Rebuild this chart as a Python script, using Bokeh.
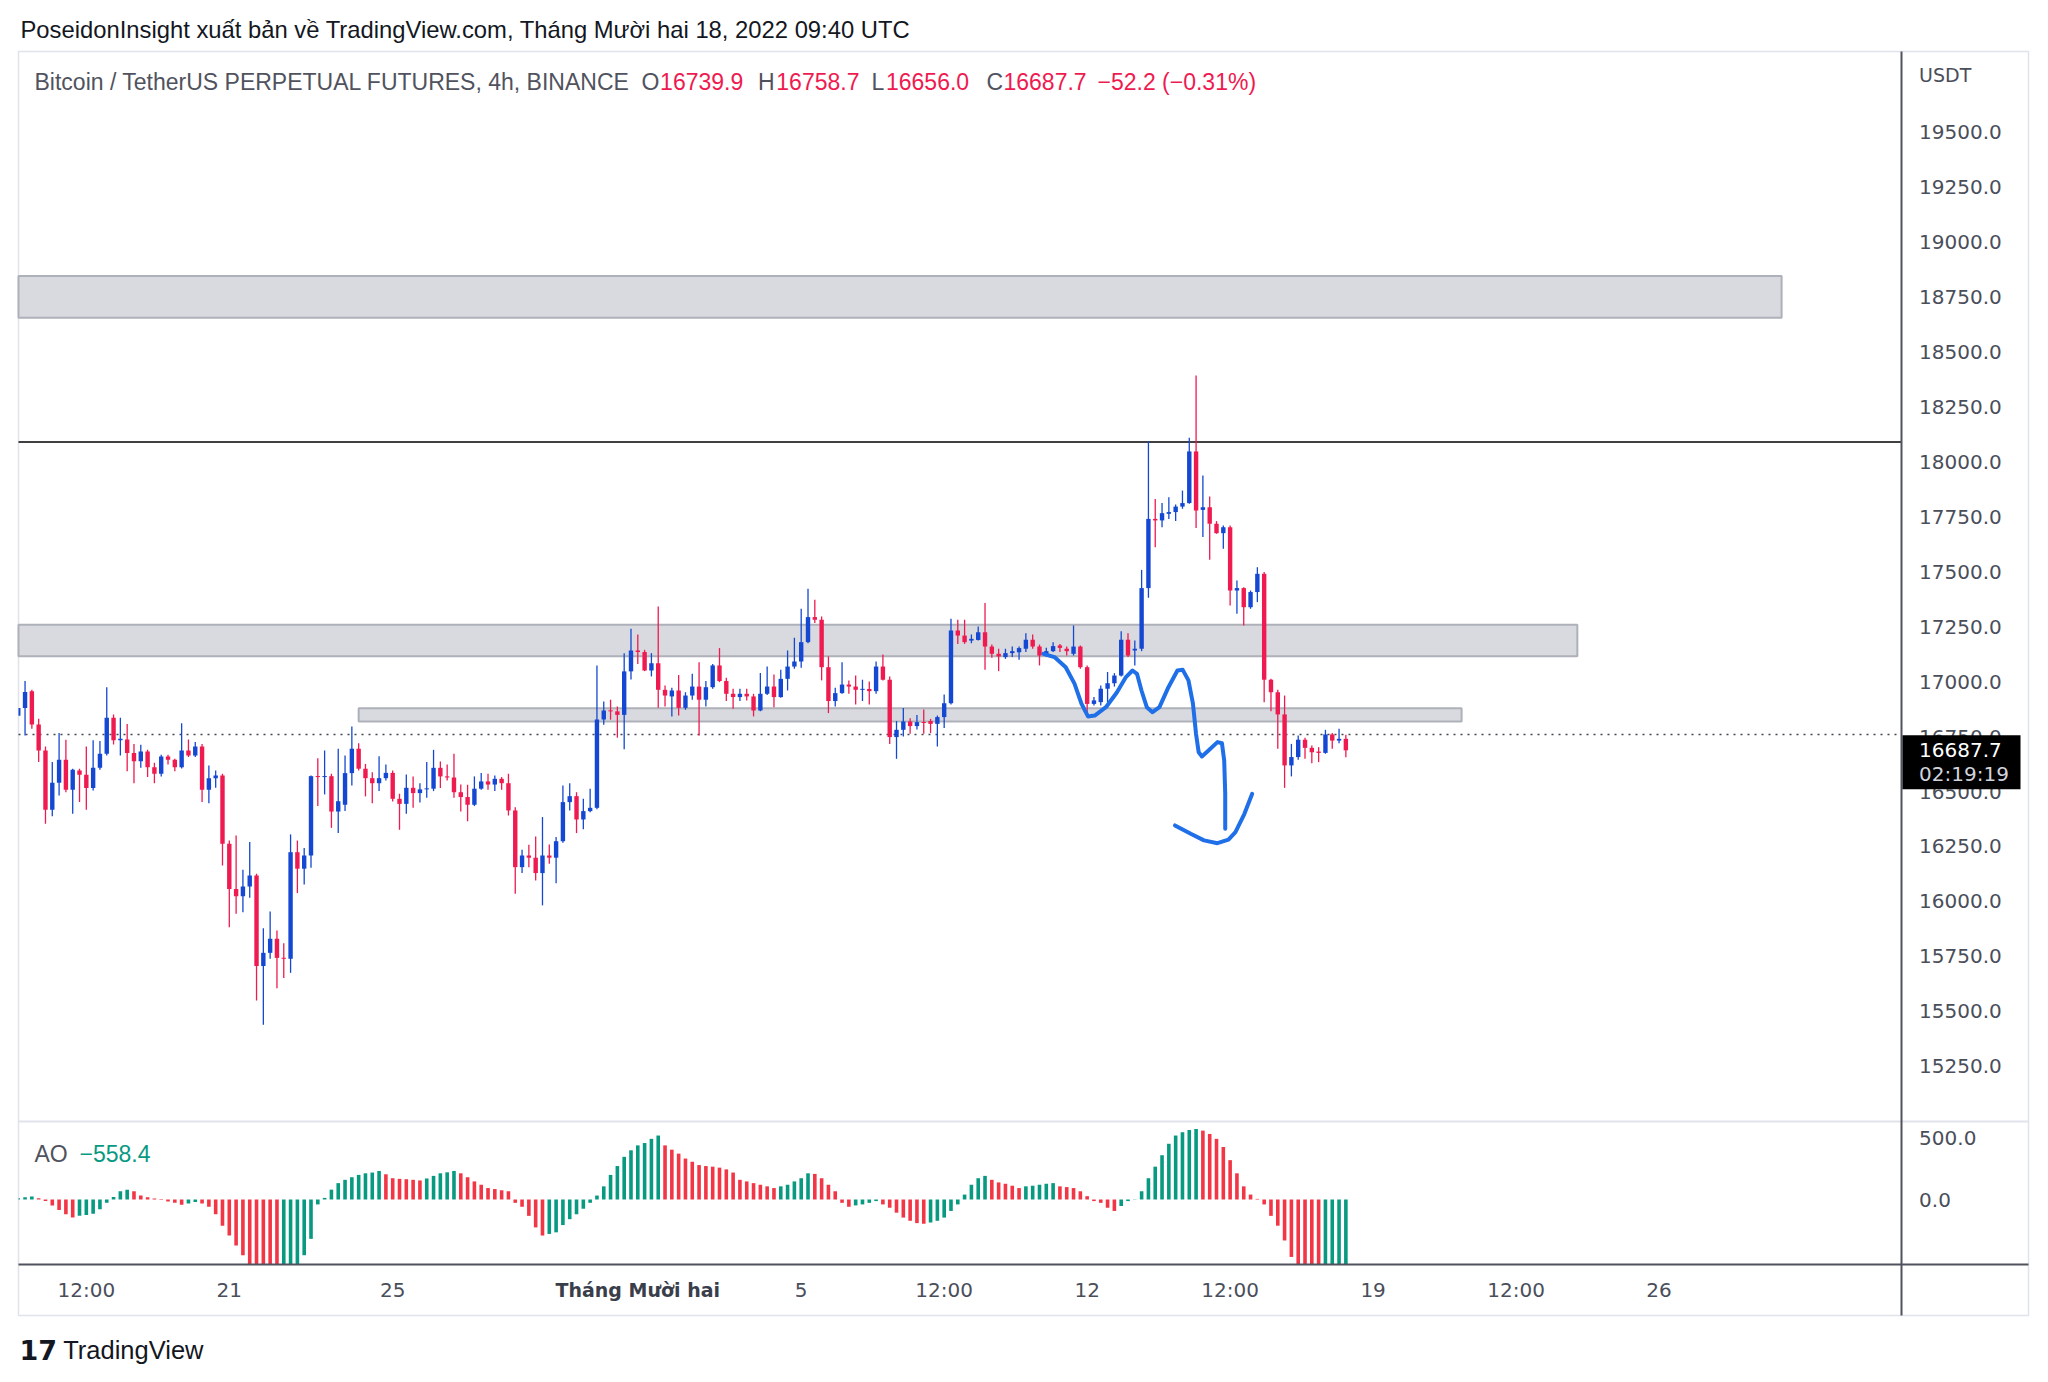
import numpy as np
import pandas as pd
from bokeh.plotting import figure
from bokeh.models import Range1d, Label, ColumnDataSource
from bokeh.core.properties import value
from bokeh.embed import file_html
from bokeh.resources import INLINE

# ---------------- data ----------------
first_bar = "2022-11-15 20:00"   # 4h candles
opens = [16845, 16880, 16957, 16805, 16687, 16417, 16540, 16645, 16508, 16596,
         16576, 16516, 16608, 16672, 16836, 16733, 16737, 16676, 16638, 16682,
         16611, 16581, 16660, 16645, 16611, 16687, 16664, 16705, 16508, 16561,
         16573, 16262, 16057, 16024, 16068, 16118, 15706, 15766, 15830, 15743,
         15739, 16224, 16149, 16209, 16570, 16566, 16570, 16409, 16440, 16584,
         16695, 16604, 16561, 16538, 16561, 16585, 16467, 16444, 16517, 16493,
         16510, 16513, 16608, 16569, 16564, 16497, 16475, 16440, 16513, 16546,
         16532, 16558, 16538, 16414, 16156, 16209, 16199, 16129, 16209, 16199,
         16274, 16452, 16479, 16373, 16411, 16426, 16828, 16869, 16865, 16849,
         17047, 17142, 17135, 17051, 17084, 16963, 16933, 16960, 16881, 16937,
         16978, 16918, 16975, 17074, 17003, 16945, 16930, 16945, 16933, 16869,
         16945, 16978, 16930, 17013, 17069, 17092, 17180, 17294, 17282, 17066,
         16912, 16948, 16987, 16978, 16963, 16967, 16957, 17069, 17009, 16748,
         16781, 16819, 16798, 16816, 16821, 16808, 16839, 16902, 17233, 17210,
         17187, 17190, 17225, 17160, 17127, 17112, 17130, 17134, 17150, 17191,
         17160, 17119, 17139, 17165, 17150, 17127, 17160, 17066, 16899, 16907,
         16968, 16993, 17028, 17191, 17142, 17150, 17426, 17741, 17734, 17764,
         17772, 17797, 17813, 18048, 17782, 17794, 17719, 17676, 17703, 17415,
         17426, 17339, 17408, 17491, 17009, 16952, 16851, 16619, 16657, 16736,
         16699, 16682, 16676, 16760, 16732, 16739.9]
highs = [16890, 17003, 16963, 16831, 16705, 16634, 16766, 16736, 16604, 16604,
         16705, 16733, 16730, 16975, 16851, 16836, 16808, 16717, 16713, 16690,
         16631, 16667, 16667, 16649, 16811, 16737, 16725, 16717, 16619, 16596,
         16581, 16277, 16300, 16144, 16270, 16126, 15878, 15954, 15868, 15810,
         16305, 16277, 16243, 16573, 16652, 16687, 16581, 16695, 16664, 16796,
         16720, 16626, 16588, 16661, 16623, 16596, 16490, 16578, 16569, 16538,
         16634, 16690, 16637, 16623, 16672, 16532, 16531, 16569, 16584, 16581,
         16573, 16566, 16581, 16429, 16235, 16258, 16296, 16384, 16259, 16293,
         16528, 16538, 16497, 16467, 16513, 17074, 16910, 16918, 16887, 17130,
         17241, 17215, 17145, 17130, 17342, 16983, 16972, 17031, 16952, 17036,
         17089, 17003, 17081, 17153, 17018, 16968, 16968, 16968, 16945, 17040,
         17069, 17033, 17054, 17142, 17200, 17332, 17423, 17373, 17297, 17115,
         16972, 17089, 17006, 17028, 17009, 17001, 17092, 17124, 17024, 16821,
         16880, 16834, 16849, 16874, 16831, 16846, 16942, 17286, 17282, 17282,
         17215, 17251, 17358, 17169, 17150, 17150, 17160, 17160, 17221, 17215,
         17169, 17154, 17180, 17172, 17160, 17256, 17165, 17074, 16930, 16983,
         17044, 17039, 17230, 17221, 17188, 17509, 18095, 17832, 17813, 17840,
         17807, 17870, 18110, 18394, 17939, 17843, 17731, 17711, 17711, 17461,
         17430, 17415, 17521, 17499, 17013, 16963, 16937, 16717, 16755, 16745,
         16710, 16702, 16781, 16766, 16786, 16758.7]
lows = [16836, 16755, 16786, 16634, 16353, 16388, 16482, 16497, 16399, 16452,
        16417, 16505, 16599, 16664, 16714, 16664, 16593, 16538, 16608, 16566,
        16538, 16569, 16623, 16593, 16605, 16657, 16657, 16452, 16447, 16517,
        16164, 15883, 15944, 15951, 16017, 15549, 15439, 15739, 15605, 15651,
        15675, 16038, 16077, 16153, 16434, 16487, 16335, 16311, 16411, 16528,
        16596, 16478, 16447, 16502, 16550, 16455, 16326, 16399, 16426, 16450,
        16472, 16502, 16516, 16550, 16472, 16409, 16365, 16434, 16508, 16508,
        16502, 16508, 16391, 16035, 16129, 16156, 16095, 15982, 16171, 16083,
        16267, 16414, 16311, 16329, 16406, 16419, 16804, 16827, 16745, 16692,
        17010, 17081, 17048, 17024, 16881, 16887, 16842, 16846, 16872, 16918,
        16755, 16887, 16968, 16998, 16912, 16877, 16912, 16915, 16842, 16865,
        16940, 16884, 16927, 16960, 17059, 17063, 17175, 17267, 17006, 16857,
        16887, 16945, 16945, 16896, 16912, 16896, 16945, 17006, 16717, 16649,
        16751, 16763, 16783, 16763, 16766, 16705, 16789, 16896, 17172, 17172,
        17175, 17188, 17054, 17109, 17048, 17104, 17112, 17100, 17135, 17150,
        17074, 17115, 17135, 17135, 17119, 17119, 17059, 16861, 16892, 16892,
        16907, 16978, 17024, 17112, 17074, 17139, 17382, 17612, 17703, 17741,
        17731, 17787, 17810, 17700, 17658, 17555, 17673, 17605, 17347, 17309,
        17256, 17332, 17362, 16907, 16866, 16695, 16517, 16569, 16645, 16649,
        16629, 16634, 16672, 16695, 16720, 16656.0]
closes = [16880, 16953, 16805, 16687, 16417, 16540, 16645, 16508, 16599, 16576,
          16516, 16608, 16672, 16836, 16733, 16740, 16676, 16638, 16682, 16611,
          16581, 16660, 16645, 16611, 16687, 16664, 16705, 16508, 16561, 16573,
          16262, 16057, 16024, 16068, 16118, 15706, 15766, 15830, 15743, 15739,
          16224, 16149, 16209, 16570, 16566, 16570, 16409, 16456, 16584, 16695,
          16604, 16561, 16538, 16561, 16585, 16467, 16444, 16517, 16493, 16510,
          16513, 16608, 16569, 16564, 16497, 16475, 16440, 16513, 16546, 16532,
          16558, 16538, 16414, 16156, 16209, 16199, 16129, 16209, 16199, 16274,
          16452, 16479, 16373, 16411, 16426, 16828, 16869, 16865, 16849, 17047,
          17142, 17135, 17051, 17084, 16963, 16937, 16960, 16881, 16937, 16978,
          16918, 16975, 17074, 17003, 16945, 16930, 16945, 16933, 16869, 16945,
          16978, 16930, 17013, 17069, 17092, 17180, 17294, 17282, 17066, 16912,
          16948, 16987, 16978, 16963, 16967, 16957, 17069, 17009, 16748, 16781,
          16819, 16798, 16816, 16812, 16808, 16839, 16902, 17233, 17210, 17180,
          17195, 17225, 17160, 17127, 17115, 17130, 17139, 17153, 17191, 17160,
          17119, 17139, 17162, 17154, 17139, 17160, 17066, 16899, 16915, 16968,
          16993, 17028, 17191, 17119, 17150, 17426, 17741, 17734, 17767, 17772,
          17797, 17813, 18048, 17779, 17794, 17719, 17676, 17703, 17415, 17426,
          17339, 17408, 17491, 17009, 16952, 16851, 16619, 16657, 16736, 16699,
          16679, 16676, 16760, 16732, 16740, 16687.7]

# Awesome Oscillator histogram, one value per candle
ao_values = [11, 19, 24, 11, -13, -48, -85, -120, -147, -133,
             -125, -115, -80, -27, 21, 67, 80, 67, 32, 19,
             8, -5, -16, -27, -43, -32, -21, -32, -59, -120,
             -213, -293, -373, -453, -533, -587, -640, -667, -680, -640,
             -600, -533, -453, -320, -40, 13, 80, 133, 160, 181,
             200, 213, 219, 232, 205, 173, 168, 165, 160, 155,
             171, 192, 213, 221, 232, 213, 181, 147, 120, 93,
             85, 75, 67, -27, -59, -133, -227, -293, -280, -267,
             -208, -160, -120, -75, -27, 32, 107, 200, 272, 347,
             400, 440, 459, 493, 520, 440, 405, 373, 333, 307,
             280, 272, 267, 259, 245, 219, 160, 147, 133, 120,
             107, 93, 107, 120, 147, 173, 213, 208, 173, 120,
             67, -27, -59, -48, -40, -27, -13, -40, -67, -107,
             -147, -173, -192, -197, -187, -173, -147, -93, -40, 40,
             120, 173, 192, 160, 139, 128, 112, 93, 107, 112,
             120, 128, 133, 107, 101, 93, 67, 27, -13, -27,
             -67, -93, -53, -13, 2, 67, 173, 267, 360, 453,
             520, 547, 565, 573, 560, 533, 493, 427, 320, 213,
             107, 40, 5, -40, -133, -213, -333, -467, -545, -600,
             -635, -650, -635, -610, -585, -558.4]

price_ticks = [15250, 15500, 15750, 16000, 16250, 16500, 16750, 17000, 17250,
               17500, 17750, 18000, 18250, 18500, 18750, 19000, 19250, 19500]
ao_ticks = [0, 500]
time_ticks = ["2022-11-17 12:00", "2022-11-21", "2022-11-25", "2022-12-01", "2022-12-05",
              "2022-12-08 12:00", "2022-12-12", "2022-12-15 12:00", "2022-12-19",
              "2022-12-22 12:00", "2022-12-26"]
time_labels = ["12:00", "21", "25", "Tháng Mười hai", "5", "12:00", "12", "12:00", "19", "12:00", "26"]

# drawn rectangles (zones)
zone_starts = ["2022-11-10", "2022-11-10", "2022-11-24 04:00"]
zone_ends = ["2022-12-29", "2022-12-24", "2022-12-21 04:00"]
zone_lows = [18656, 17116, 16819]
zone_highs = [18846, 17259, 16879]
resistance_level = 18091
dotted_level = 16760

# hand-drawn blue sketch (days since 2022-11-01, price)
sketch1_days = [39.93, 40.20, 40.475, 40.69, 40.86, 41.02, 41.185, 41.46, 41.73, 41.95,
                42.11, 42.22, 42.33, 42.46, 42.60, 42.77, 42.99, 43.21, 43.34, 43.48,
                43.59, 43.665, 43.73, 43.81, 43.97, 44.19, 44.30, 44.355, 44.38, 44.38]
sketch1_prices = [17127, 17112, 17066, 16991, 16900, 16842, 16846, 16884, 16952, 17021,
                  17051, 17036, 16960, 16884, 16861, 16884, 16975, 17051, 17054, 17006,
                  16900, 16763, 16679, 16660, 16687, 16725, 16720, 16641, 16490, 16331]
sketch2_days = [43.15, 43.535, 43.86, 44.19, 44.46, 44.63, 44.85, 45.04]
sketch2_prices = [16346, 16308, 16278, 16265, 16281, 16315, 16399, 16490]

last_price = 16687.7
countdown = "02:19:19"

# ---------------- geometry ----------------
W, H = 2048, 1382
FL, FR, FT, FB = 18, 2028, 51, 1315          # outer chart box (canvas px)
AXIS_X = 1901                                  # price-scale separator
X_DEC1, PX_DAY = 637.3, 40.85                  # x calibration
Y_19500, PX_PRICE = 131.9, 54.93 / 250         # y calibration
AO_ZERO_Y, AO_PER_PX = 1199.0, 500 / 61.5
PANE_SPLIT_Y, AO_BOTTOM_Y = 1121, 1264

ORIGIN = pd.Timestamp("2022-11-01")


def to_days(t):
    return (pd.to_datetime(t) - ORIGIN) / pd.Timedelta(days=1)


def d_at(X):
    return 30 + (X - X_DEC1) / PX_DAY


def p_at(Y):
    return 19500 - (Y - Y_19500) / PX_PRICE


def ao_at(Y):
    return (AO_ZERO_Y - Y) * AO_PER_PX


UP, DOWN = "#1448d2", "#ee1a50"
AO_UP, AO_DOWN = "#089981", "#f23645"
AX_TXT = "#4a4e5a"

p = figure(width=W, height=H,
           x_range=Range1d(d_at(0), d_at(W)),
           y_range=Range1d(p_at(H), p_at(0)),
           min_border_left=0, min_border_right=0, min_border_top=0, min_border_bottom=0,
           x_axis_location=None, y_axis_location=None,
           toolbar_location=None, output_backend="svg", title=None)
p.extra_y_ranges = {"ao": Range1d(ao_at(H), ao_at(0))}
p.outline_line_color = None
p.background_fill_color = "white"
p.border_fill_color = "white"
p.grid.visible = False

left_edge = d_at(FL)
right_edge = d_at(FR)
axis_d = d_at(AXIS_X)
top_p = p_at(FT)
bot_p = p_at(FB)

# outer chart box
p.quad(left=[left_edge], right=[right_edge], bottom=[bot_p], top=[top_p],
       fill_color=None, line_color="#e0e3eb", line_width=1.5)

# zones (clipped to the chart's left edge)
zs = np.maximum([to_days(t) for t in zone_starts], left_edge)
ze = [to_days(t) for t in zone_ends]
p.quad(left=zs, right=ze, bottom=zone_lows, top=zone_highs,
       fill_color="#d9dadf", line_color="#aeb1b9", line_width=2)

# horizontal lines
p.line([left_edge, axis_d], [resistance_level, resistance_level], color="#000000", line_width=1.6)
p.line([left_edge, axis_d], [dotted_level, dotted_level], color="#434651", line_width=1.6,
       line_dash="2 5")

# candles (clipped to the visible window)
xs = np.asarray(to_days(pd.date_range(first_bar, periods=len(opens), freq="4h")))
o = np.array(opens, float)
c = np.array(closes, float)
cols = np.array([UP if cc >= oo else DOWN for oo, cc in zip(o, c)])
bw = 4.4 / PX_DAY
vis_w = xs >= left_edge
wsrc = ColumnDataSource(dict(x=xs[vis_w], h=np.array(highs)[vis_w], l=np.array(lows)[vis_w],
                             color=cols[vis_w]))
p.segment(x0="x", y0="l", x1="x", y1="h", line_color="color", line_width=1.3, source=wsrc)
b_left = np.maximum(xs - bw / 2, left_edge)
b_right = xs + bw / 2
vis_b = b_right > b_left
top = np.maximum(o, c)
bottom = np.minimum(o, c)
min_h = 1.0 / PX_PRICE
top = np.where(top - bottom < min_h, bottom + min_h, top)
bsrc = ColumnDataSource(dict(left=b_left[vis_b], right=b_right[vis_b], top=top[vis_b],
                             bottom=bottom[vis_b], color=cols[vis_b]))
p.quad(left="left", right="right", top="top", bottom="bottom", fill_color="color",
       line_color=None, source=bsrc)

# sketch
p.line(sketch1_days, sketch1_prices, line_color="#1f6fe8", line_width=4,
       line_join="round", line_cap="round")
p.line(sketch2_days, sketch2_prices, line_color="#1f6fe8", line_width=4,
       line_join="round", line_cap="round")

# AO histogram
ao = np.array(ao_values, float)
ao_cols = np.array([AO_UP] + [AO_UP if ao[i] >= ao[i - 1] else AO_DOWN for i in range(1, len(ao))])
ao_clip = ao_at(AO_BOTTOM_Y)
aw = 3.6 / PX_DAY
a_left = np.maximum(xs - aw / 2, left_edge)
a_right = xs + aw / 2
vis_a = a_right > a_left
p.quad(left=a_left[vis_a], right=a_right[vis_a], top=np.maximum(ao, 0)[vis_a],
       bottom=np.maximum(np.minimum(ao, 0), ao_clip)[vis_a],
       fill_color=ao_cols[vis_a], line_color=None, y_range_name="ao")

# pane separators and scale lines
p.line([left_edge, right_edge], [p_at(PANE_SPLIT_Y)] * 2, color="#e0e3eb", line_width=2)
p.line([left_edge, right_edge], [p_at(AO_BOTTOM_Y)] * 2, color="#50535e", line_width=2)
p.line([axis_d, axis_d], [bot_p, top_p], color="#50535e", line_width=2)

# price scale labels
lab_x = d_at(1918.6)
p.text(x=[lab_x] * len(price_ticks), y=price_ticks, text=[f"{v:.1f}" for v in price_ticks],
       text_font=value("DejaVu Sans"), text_font_size="20px", text_color=AX_TXT,
       text_align="left", text_baseline="middle")
p.text(x=[lab_x] * len(ao_ticks), y=ao_ticks, text=[f"{v:.1f}" for v in ao_ticks],
       text_font=value("DejaVu Sans"), text_font_size="20px", text_color=AX_TXT,
       text_align="left", text_baseline="middle", y_range_name="ao")

# time scale labels
tx = [to_days(t) for t in time_ticks]
ty = p_at(1289)
norm = [i for i, t in enumerate(time_labels) if not t.startswith("Tháng")]
bold = [i for i, t in enumerate(time_labels) if t.startswith("Tháng")]
p.text(x=[tx[i] for i in norm], y=[ty] * len(norm), text=[time_labels[i] for i in norm],
       text_font=value("DejaVu Sans"), text_font_size="20px", text_color=AX_TXT,
       text_align="center", text_baseline="middle")
p.text(x=[tx[i] for i in bold], y=[ty] * len(bold), text=[time_labels[i] for i in bold],
       text_font=value("DejaVu Sans"), text_font_size="19px", text_font_style="bold",
       text_color="#3a3e4a", text_align="center", text_baseline="middle")

# last price badge
y_last_px = Y_19500 + (19500 - last_price) * PX_PRICE
p.quad(left=[d_at(1902)], right=[d_at(2020)], bottom=[p_at(y_last_px + 39)],
       top=[p_at(y_last_px - 15)], fill_color="#000000", line_color=None)
p.text(x=[lab_x], y=[last_price], text=[f"{last_price:.1f}"], text_font=value("DejaVu Sans"),
       text_font_size="20px", text_color="#ffffff", text_align="left", text_baseline="middle")
p.text(x=[lab_x], y=[p_at(y_last_px + 24)], text=[countdown], text_font=value("DejaVu Sans"),
       text_font_size="20px", text_color="#d1d4dc", text_align="left", text_baseline="middle")


def label(x_px, y_px, text, size, color, font="Liberation Sans", style="normal"):
    p.add_layout(Label(x=d_at(x_px), y=p_at(y_px), text=text, text_font=font,
                       text_font_size=size, text_color=color, text_font_style=style,
                       text_baseline="middle", text_align="left"))


label(1918.6, 74, "USDT", "19px", AX_TXT, font="DejaVu Sans")

# legend line
GREY = "#50535e"
RED = "#ee1a50"
label(34, 81, "Bitcoin / TetherUS PERPETUAL FUTURES, 4h, BINANCE", "23px", GREY)
label(641, 81, "O", "23px", GREY)
label(659.6, 81, "16739.9", "23px", RED)
label(757.5, 81, "H", "23px", GREY)
label(775.8, 81, "16758.7", "23px", RED)
label(871.1, 81, "L", "23px", GREY)
label(885.5, 81, "16656.0", "23px", RED)
label(986.1, 81, "C", "23px", GREY)
label(1003, 81, "16687.7", "23px", RED)
label(1097, 81, "−52.2 (−0.31%)", "23px", RED)

# AO legend
label(34, 1153, "AO", "23px", GREY)
label(79, 1153, "−558.4", "23px", AO_UP)

# header & footer
label(20, 29, "PoseidonInsight xuất bản về TradingView.com, Tháng Mười hai 18, 2022 09:40 UTC",
      "23.8px", "#131722")
label(19, 1349, "17", "27px", "#131722", font="DejaVu Sans", style="bold")
label(62.7, 1349, "TradingView", "25.5px", "#131722")

open("out.html", "w").write(file_html(p, INLINE))
